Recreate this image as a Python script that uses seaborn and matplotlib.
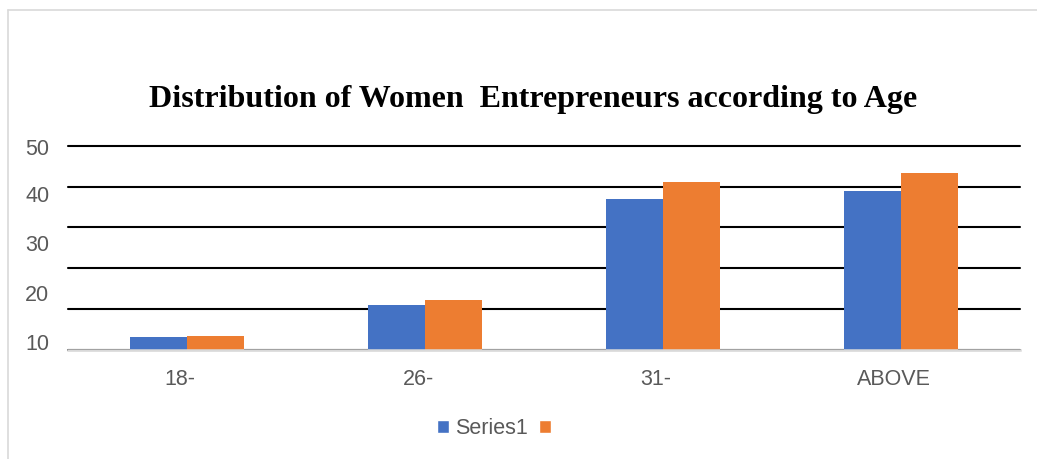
import matplotlib
matplotlib.use("Agg")
import matplotlib.pyplot as plt
import matplotlib.transforms as mtransforms
from matplotlib.lines import Line2D
from matplotlib.patches import Patch
import seaborn as sns
import pandas as pd

categories = ["18-", "26-", "31-", "ABOVE"]
series1 = [3.1, 11.0, 36.9, 38.9]
series2 = [3.4, 12.2, 41.1, 43.3]
series_names = ["Series1", "Series2"]
legend_labels = ["Series1", ""]
grid_values = [0, 10, 20, 30, 40, 50]
ylabel_positions = [49.7, 38.1, 26.2, 13.9, 2.0]
ylabel_texts = ["50", "40", "30", "20", "10"]
title = "Distribution of Women  Entrepreneurs according to Age"

df = pd.DataFrame({
    "age": categories * 2,
    "value": series1 + series2,
    "series": [series_names[0]] * len(categories) + [series_names[1]] * len(categories),
})

sns.set_theme(style="white")
plt.rcParams["font.family"] = ["Liberation Sans", "DejaVu Sans"]

fig = plt.figure(figsize=(10.37, 4.59), dpi=100)
ax = fig.add_axes([68 / 1037, 1 - 350 / 459, (1020 - 68) / 1037, (350 - 145.7) / 459])

sns.barplot(data=df, x="age", y="value", hue="series", order=categories,
            hue_order=series_names, palette=["#4472C4", "#ED7D31"],
            width=0.48, saturation=1, ax=ax, legend=False, linewidth=0)

ax.set_xlim(-0.5, len(categories) - 0.5)
ax.set_ylim(0, 50)
ax.set_axisbelow(True)

ax.set_yticks(grid_values)
ax.set_yticklabels([])
ax.yaxis.grid(True, which="major", color="black", linewidth=1.5)
for gl in ax.get_ygridlines():
    gl.set_clip_on(False)
ax.set_yticks(ylabel_positions, minor=True)
ax.set_yticklabels(ylabel_texts, minor=True)
ax.tick_params(axis="y", which="both", length=0, pad=13.5, labelsize=15.5, labelcolor="#595959")
ax.tick_params(axis="x", length=0, pad=14, labelsize=15.5, labelcolor="#595959")
offset = mtransforms.ScaledTranslation(-7 / 100, 0, fig.dpi_scale_trans)
for lbl in ax.get_xticklabels():
    lbl.set_transform(lbl.get_transform() + offset)

ax.set_xlabel("")
ax.set_ylabel("")
for s in ["top", "right", "left"]:
    ax.spines[s].set_visible(False)
ax.spines["bottom"].set_color("#D9D9D9")
ax.spines["bottom"].set_linewidth(1.8)
ax.spines["bottom"].set_zorder(5)

fig.text(533.5 / 1037, 1 - 99 / 459, title, ha="center", va="center",
         fontsize=23, fontweight="bold", family=["Liberation Serif", "DejaVu Serif"], color="black")

handles = [Patch(facecolor="#4472C4"), Patch(facecolor="#ED7D31")]
fig.legend(handles, legend_labels, loc="center", bbox_to_anchor=(497 / 1037, 1 - 429 / 459),
           ncol=2, frameon=False, fontsize=15.5, labelcolor="#595959",
           handlelength=0.56, handleheight=0.56, handletextpad=0.25, columnspacing=0.55,
           borderpad=0, borderaxespad=0)

fig.add_artist(Line2D([7.5 / 1037, 7.5 / 1037], [0, 1 - 10 / 459], transform=fig.transFigure,
                      color="#D9D9D9", linewidth=1.2))
fig.add_artist(Line2D([7.5 / 1037, 1], [1 - 10 / 459, 1 - 10 / 459], transform=fig.transFigure,
                      color="#D9D9D9", linewidth=1.2))

fig.savefig("out.png", dpi=100, facecolor="white")
